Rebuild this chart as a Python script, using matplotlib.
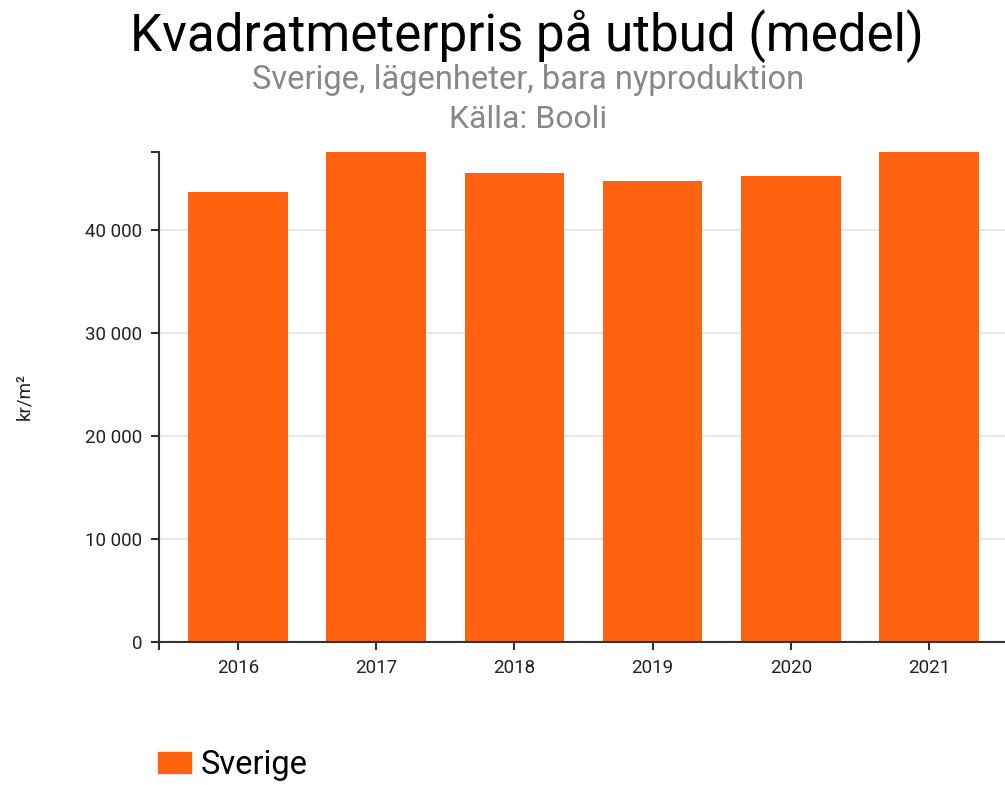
import matplotlib
matplotlib.use("Agg")
import matplotlib.pyplot as plt
from matplotlib.patches import Patch

# data (kr/m2, mean asking price, new builds)
years = ["2016", "2017", "2018", "2019", "2020", "2021"]
prices = [43700, 48300, 45550, 44750, 45250, 49200]
series_name = "Sverige"

bar_color = "#ff6310"
axis_color = "#333333"
plt.rcParams["font.family"] = ["Roboto", "DejaVu Sans"]

fig = plt.figure(figsize=(10.05, 7.85), dpi=100)
ax = fig.add_axes([159 / 1005, 1 - 642 / 785, 1 - 159 / 1005, (642 - 152) / 785])

x = range(len(years))
ax.bar(x, prices, width=0.72, color=bar_color, zorder=2)

y_top = 47600
ax.set_ylim(0, y_top)
ax.set_xlim(-0.572, 5.55)

# grid + ticks
yt = [0, 10000, 20000, 30000, 40000]
ax.set_yticks(yt)
ax.set_yticklabels([f"{v:,}".replace(",", " ") for v in yt])
ax.set_yticks([y_top], minor=True)
ax.set_xticks(list(x))
ax.set_xticklabels(years)
ax.set_xticks([-0.572], minor=True)
ax.yaxis.grid(True, which="major", color="#e8e8e8", linewidth=1.6, zorder=0)
ax.set_axisbelow(True)

for s in ["top", "right"]:
    ax.spines[s].set_visible(False)
for s in ["left", "bottom"]:
    ax.spines[s].set_color(axis_color)
    ax.spines[s].set_linewidth(1.5)
    ax.spines[s].set_zorder(3)
ax.tick_params(which="both", color=axis_color, width=1.5, length=6,
               labelsize=13.5, labelcolor="#222222", pad=6)

ax.set_ylabel("kr/m²", fontsize=13.5, color="#222222")
ax.yaxis.set_label_coords((33 - 159) / 846, 0.5)

fig.text(527 / 1005, 1 - 36 / 785, "Kvadratmeterpris på utbud (medel)",
         ha="center", va="center", fontsize=36.8, color="black")
fig.text(528 / 1005, 1 - 80 / 785, "Sverige, lägenheter, bara nyproduktion",
         ha="center", va="center", fontsize=23.5, color="#888888")
fig.text(528 / 1005, 1 - 119 / 785, "Källa: Booli",
         ha="center", va="center", fontsize=23, color="#888888")

fig.legend(handles=[Patch(color=bar_color, label=series_name)],
           loc="center left", bbox_to_anchor=(145 / 1005, 1 - 765 / 785),
           frameon=False, fontsize=23.5, handlelength=1.0, handleheight=0.65,
           handletextpad=0.3, borderaxespad=0)

fig.savefig("out.png", dpi=100)
